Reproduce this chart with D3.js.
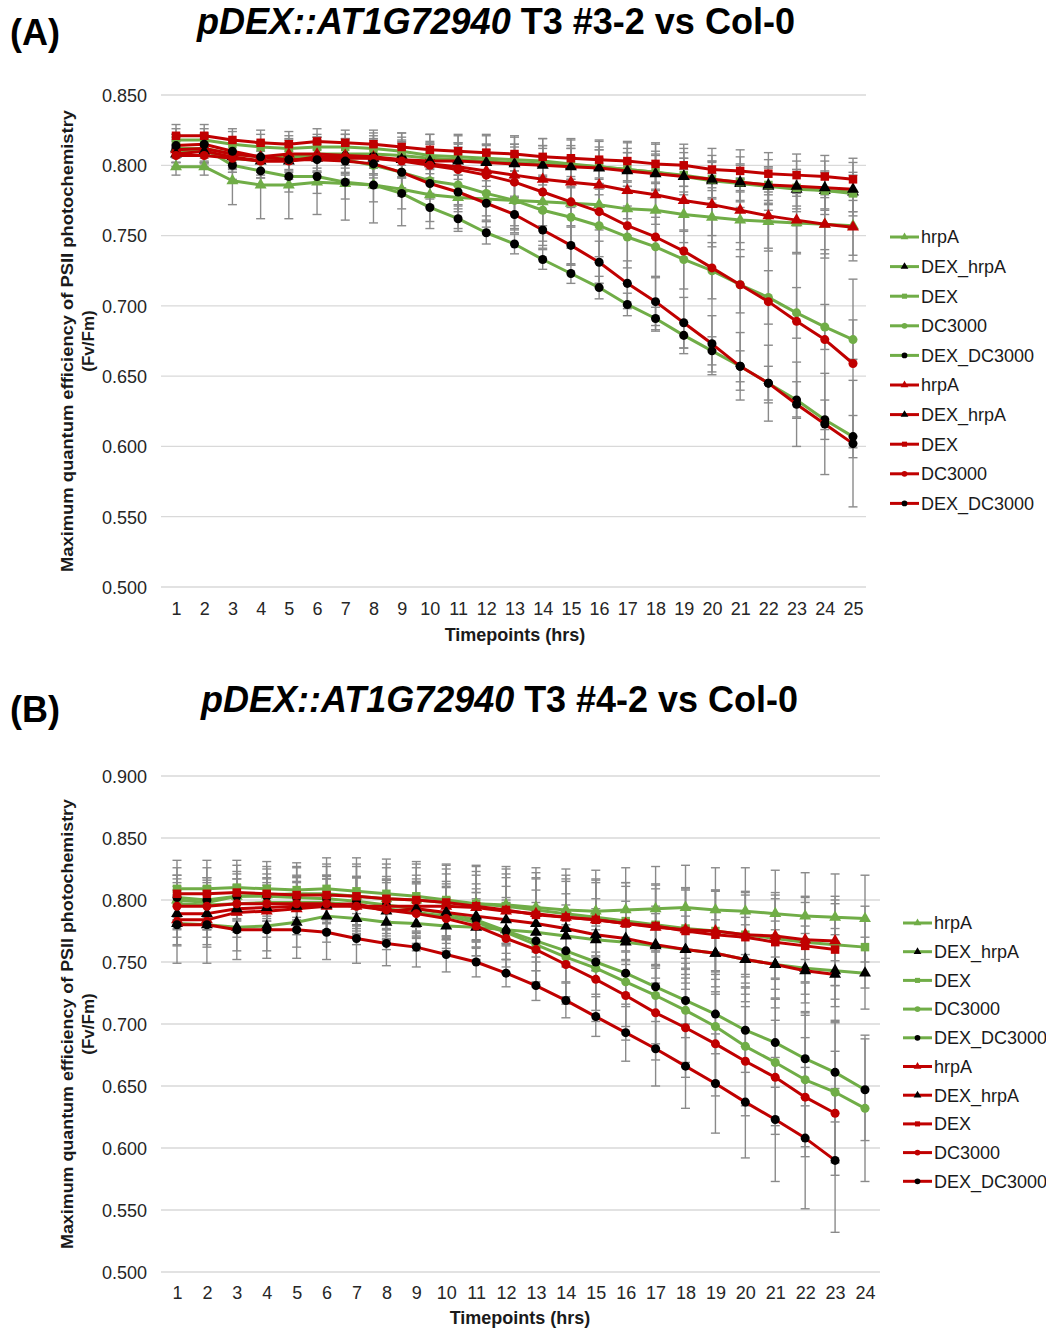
<!DOCTYPE html>
<html>
<head>
<meta charset="utf-8">
<script src="https://cdn.jsdelivr.net/npm/d3@7"></script>
<style>
  body { margin: 0; background: #fff; }
  svg { display: block; font-family: "Liberation Sans", Arial, sans-serif; }
  .grid line { stroke: #d9d9d9; stroke-width: 1.3; }
  .tick text { fill: #262626; font-size: 18px; }
  .legend text { fill: #1a1a1a; font-size: 18px; }
</style>
</head>
<body>
<div id="chart"></div>
<script>
// ---- panel A: T3 #3-2 vs Col-0 ----
const timesA = d3.range(1, 26);
const yTicksA = [0.500, 0.550, 0.600, 0.650, 0.700, 0.750, 0.800, 0.850];

const aGreenHrpA      = [0.799,0.799,0.789,0.786,0.786,0.788,0.787,0.786,0.783,0.779,0.777,0.776,0.775,0.774,0.773,0.772,0.769,0.768,0.765,0.763,0.761,0.760,0.759,0.758,0.757];
const aGreenDexHrpA   = [0.812,0.812,0.808,0.806,0.806,0.808,0.808,0.808,0.807,0.805,0.804,0.803,0.802,0.801,0.800,0.799,0.797,0.795,0.792,0.789,0.787,0.785,0.783,0.782,0.781];
const aGreenDex       = [0.818,0.818,0.815,0.813,0.812,0.813,0.813,0.812,0.810,0.807,0.806,0.805,0.804,0.803,0.801,0.799,0.797,0.795,0.793,0.790,0.788,0.786,0.784,0.782,0.780];
const aGreenDC3000    = [0.810,0.810,0.805,0.803,0.805,0.806,0.804,0.800,0.795,0.789,0.786,0.780,0.775,0.768,0.763,0.757,0.749,0.742,0.733,0.725,0.715,0.706,0.695,0.685,0.676];
const aGreenDexDC3000 = [0.812,0.812,0.800,0.796,0.792,0.792,0.788,0.786,0.780,0.770,0.762,0.752,0.744,0.733,0.723,0.713,0.701,0.691,0.679,0.668,0.657,0.645,0.633,0.619,0.607];
const aRedHrpA        = [0.811,0.812,0.808,0.806,0.808,0.808,0.807,0.806,0.804,0.801,0.799,0.796,0.793,0.790,0.788,0.786,0.782,0.779,0.775,0.772,0.768,0.764,0.761,0.758,0.756];
const aRedDexHrpA     = [0.808,0.810,0.806,0.803,0.803,0.805,0.805,0.805,0.804,0.803,0.803,0.802,0.801,0.800,0.799,0.798,0.796,0.794,0.792,0.790,0.788,0.786,0.785,0.784,0.783];
const aRedDex         = [0.821,0.821,0.818,0.816,0.815,0.817,0.816,0.815,0.813,0.811,0.810,0.809,0.808,0.806,0.805,0.804,0.803,0.801,0.800,0.797,0.796,0.794,0.793,0.792,0.790];
const aRedDC3000      = [0.807,0.807,0.805,0.803,0.803,0.806,0.806,0.805,0.803,0.800,0.797,0.793,0.788,0.781,0.774,0.767,0.757,0.749,0.739,0.727,0.715,0.703,0.689,0.676,0.659];
const aRedDexDC3000   = [0.814,0.815,0.810,0.806,0.804,0.804,0.803,0.801,0.795,0.787,0.781,0.773,0.765,0.754,0.743,0.731,0.716,0.703,0.688,0.673,0.657,0.645,0.630,0.616,0.602];

const aGreenHrpAErr      = [0.006,0.006,0.017,0.024,0.024,0.023,0.026,0.027,0.026,0.024,0.022,0.020,0.018,0.017,0.017,0.018,0.019,0.020,0.020,0.021,0.021,0.021,0.021,0.021,0.021];
const aGreenDexHrpAErr   = [0.010,0.010,0.010,0.011,0.010,0.010,0.010,0.010,0.011,0.011,0.011,0.011,0.011,0.011,0.012,0.012,0.012,0.013,0.013,0.013,0.013,0.013,0.014,0.014,0.014];
const aGreenDexErr       = [0.008,0.008,0.009,0.009,0.009,0.009,0.009,0.009,0.010,0.010,0.010,0.010,0.011,0.011,0.011,0.012,0.012,0.012,0.012,0.013,0.013,0.013,0.013,0.013,0.013];
const aGreenDC3000Err    = [0.008,0.008,0.010,0.012,0.013,0.014,0.015,0.016,0.017,0.018,0.019,0.020,0.021,0.022,0.022,0.022,0.022,0.021,0.021,0.020,0.020,0.019,0.018,0.016,0.014];
const aGreenDexDC3000Err = [0.010,0.010,0.010,0.011,0.011,0.012,0.012,0.012,0.011,0.010,0.009,0.008,0.007,0.007,0.007,0.008,0.008,0.008,0.009,0.010,0.011,0.012,0.013,0.014,0.015];
const aRedHrpAErr        = [0.009,0.009,0.010,0.011,0.011,0.012,0.012,0.013,0.013,0.014,0.014,0.015,0.016,0.017,0.018,0.019,0.020,0.021,0.022,0.022,0.023,0.023,0.024,0.024,0.024];
const aRedDexHrpAErr     = [0.009,0.009,0.009,0.010,0.010,0.010,0.011,0.011,0.012,0.012,0.013,0.013,0.014,0.014,0.015,0.015,0.016,0.016,0.017,0.017,0.018,0.018,0.018,0.019,0.019];
const aRedDexErr         = [0.008,0.008,0.008,0.009,0.009,0.009,0.009,0.010,0.010,0.011,0.011,0.012,0.012,0.013,0.013,0.013,0.014,0.014,0.015,0.015,0.015,0.015,0.015,0.015,0.015];
const aRedDC3000Err      = [0.008,0.008,0.010,0.012,0.013,0.014,0.016,0.018,0.020,0.022,0.025,0.029,0.033,0.038,0.045,0.051,0.059,0.067,0.073,0.076,0.075,0.072,0.068,0.064,0.060];
const aRedDexDC3000Err   = [0.008,0.008,0.008,0.009,0.009,0.009,0.010,0.010,0.011,0.011,0.012,0.012,0.013,0.013,0.014,0.015,0.016,0.017,0.018,0.020,0.024,0.027,0.030,0.036,0.045];

// ---- panel B: T3 #4-2 vs Col-0 ----
const timesB = d3.range(1, 25);
const yTicksB = [0.500, 0.550, 0.600, 0.650, 0.700, 0.750, 0.800, 0.850, 0.900];

const bGreenHrpA      = [0.800,0.798,0.803,0.804,0.805,0.805,0.803,0.801,0.800,0.798,0.797,0.796,0.794,0.792,0.791,0.792,0.793,0.794,0.792,0.791,0.789,0.787,0.786,0.785];
const bGreenDexHrpA   = [0.781,0.780,0.778,0.779,0.782,0.787,0.785,0.782,0.781,0.779,0.778,0.776,0.774,0.771,0.768,0.766,0.763,0.760,0.757,0.752,0.748,0.745,0.743,0.741];
const bGreenDex       = [0.809,0.809,0.810,0.809,0.808,0.809,0.807,0.805,0.803,0.800,0.797,0.795,0.792,0.789,0.786,0.783,0.780,0.777,0.775,0.772,0.769,0.766,0.764,0.762];
const bGreenDC3000    = [0.797,0.796,0.797,0.798,0.798,0.798,0.796,0.793,0.790,0.787,0.782,0.774,0.764,0.754,0.745,0.734,0.723,0.711,0.698,0.682,0.669,0.655,0.645,0.632];
const bGreenDexDC3000 = [0.802,0.800,0.803,0.803,0.802,0.801,0.799,0.796,0.793,0.789,0.784,0.775,0.767,0.759,0.750,0.741,0.730,0.719,0.708,0.695,0.685,0.672,0.661,0.647];
const bRedHrpA        = [0.784,0.784,0.790,0.791,0.793,0.795,0.795,0.795,0.795,0.795,0.794,0.791,0.789,0.786,0.784,0.781,0.778,0.776,0.775,0.772,0.771,0.768,0.767];
const bRedDexHrpA     = [0.789,0.789,0.793,0.794,0.795,0.796,0.797,0.791,0.793,0.790,0.787,0.784,0.781,0.777,0.772,0.769,0.764,0.760,0.757,0.752,0.748,0.743,0.740];
const bRedDex         = [0.805,0.805,0.806,0.805,0.804,0.804,0.803,0.801,0.800,0.798,0.795,0.792,0.788,0.786,0.784,0.781,0.779,0.775,0.772,0.770,0.766,0.763,0.760];
const bRedDC3000      = [0.795,0.795,0.797,0.797,0.797,0.797,0.795,0.792,0.789,0.785,0.779,0.769,0.760,0.748,0.736,0.723,0.709,0.697,0.684,0.670,0.657,0.641,0.628];
const bRedDexDC3000   = [0.780,0.780,0.776,0.776,0.776,0.774,0.769,0.765,0.762,0.756,0.750,0.741,0.731,0.719,0.706,0.693,0.680,0.666,0.652,0.637,0.623,0.608,0.590];

const bGreenHrpAErr      = [0.020,0.020,0.020,0.021,0.022,0.024,0.026,0.028,0.029,0.030,0.031,0.031,0.032,0.033,0.033,0.034,0.034,0.034,0.034,0.035,0.035,0.035,0.035,0.035];
const bGreenDexHrpAErr   = [0.018,0.018,0.019,0.020,0.020,0.021,0.021,0.022,0.022,0.023,0.023,0.024,0.024,0.025,0.025,0.026,0.026,0.027,0.027,0.028,0.028,0.028,0.029,0.029];
const bGreenDexErr       = [0.023,0.023,0.022,0.022,0.022,0.025,0.027,0.028,0.028,0.029,0.030,0.030,0.030,0.031,0.031,0.031,0.032,0.032,0.032,0.032,0.032,0.032,0.033,0.033];
const bGreenDC3000Err    = [0.020,0.020,0.020,0.020,0.021,0.022,0.023,0.024,0.025,0.026,0.027,0.028,0.030,0.032,0.034,0.036,0.039,0.042,0.045,0.048,0.051,0.054,0.057,0.059];
const bGreenDexDC3000Err = [0.018,0.018,0.018,0.018,0.018,0.019,0.019,0.020,0.020,0.021,0.022,0.023,0.024,0.025,0.026,0.027,0.028,0.030,0.032,0.034,0.036,0.038,0.040,0.041];
const bRedHrpAErr        = [0.020,0.020,0.020,0.021,0.021,0.022,0.023,0.024,0.025,0.026,0.026,0.027,0.028,0.029,0.030,0.030,0.031,0.032,0.033,0.034,0.035,0.035,0.036];
const bRedDexHrpAErr     = [0.019,0.019,0.019,0.020,0.020,0.021,0.022,0.023,0.024,0.025,0.026,0.027,0.027,0.028,0.029,0.030,0.031,0.032,0.033,0.034,0.035,0.036,0.037];
const bRedDexErr         = [0.021,0.021,0.022,0.022,0.022,0.023,0.024,0.025,0.026,0.027,0.028,0.029,0.030,0.031,0.032,0.033,0.034,0.035,0.036,0.037,0.038,0.039,0.040];
const bRedDC3000Err      = [0.019,0.019,0.020,0.020,0.021,0.022,0.023,0.024,0.025,0.026,0.027,0.028,0.030,0.032,0.034,0.036,0.038,0.040,0.042,0.044,0.046,0.048,0.050];
const bRedDexDC3000Err   = [0.031,0.031,0.024,0.023,0.023,0.022,0.020,0.018,0.016,0.014,0.012,0.011,0.012,0.014,0.016,0.023,0.030,0.034,0.040,0.045,0.050,0.057,0.058];

const seriesNames = ["hrpA", "DEX_hrpA", "DEX", "DC3000", "DEX_DC3000"];
const GREEN = "#70ad47", RED = "#c00000", BLACK = "#000000";

document.addEventListener("DOMContentLoaded", function() {
    const svg = d3.select("#chart").append("svg")
        .attr("width", 1046)
        .attr("height", 1328);

    drawPanel(svg, {
        tag: "(A)", tagY: 45,
        titleSuffix: " T3 #3-2 vs Col-0", titleX: 197, titleY: 34, titleLen: 598,
        times: timesA, yTicks: yTicksA,
        xRange: [176, 853], yRange: [587, 95], gridX: [161, 866],
        xLabelY: 616, xTitleY: 641, xTitleX: 515,
        yTitleCenter: 341, yTitleLen: 462,
        legendX: 890, legendY: 237, legendStep: 29.6,
        green: [[aGreenHrpA, aGreenHrpAErr], [aGreenDexHrpA, aGreenDexHrpAErr], [aGreenDex, aGreenDexErr], [aGreenDC3000, aGreenDC3000Err], [aGreenDexDC3000, aGreenDexDC3000Err]],
        red: [[aRedHrpA, aRedHrpAErr], [aRedDexHrpA, aRedDexHrpAErr], [aRedDex, aRedDexErr], [aRedDC3000, aRedDC3000Err], [aRedDexDC3000, aRedDexDC3000Err]]
    });

    drawPanel(svg, {
        tag: "(B)", tagY: 722,
        titleSuffix: " T3 #4-2 vs Col-0", titleX: 201, titleY: 712, titleLen: 597,
        times: timesB, yTicks: yTicksB,
        xRange: [177, 865], yRange: [1272, 776], gridX: [161, 880],
        xLabelY: 1300, xTitleY: 1324, xTitleX: 520,
        yTitleCenter: 1024, yTitleLen: 450,
        legendX: 903, legendY: 923, legendStep: 28.7,
        green: [[bGreenHrpA, bGreenHrpAErr], [bGreenDexHrpA, bGreenDexHrpAErr], [bGreenDex, bGreenDexErr], [bGreenDC3000, bGreenDC3000Err], [bGreenDexDC3000, bGreenDexDC3000Err]],
        red: [[bRedHrpA, bRedHrpAErr], [bRedDexHrpA, bRedDexHrpAErr], [bRedDex, bRedDexErr], [bRedDC3000, bRedDC3000Err], [bRedDexDC3000, bRedDexDC3000Err]]
    });
});

// marker shape + fill for each of the five treatments
function markerFor(i, lineColor) {
    const shapes = [d3.symbolTriangle, d3.symbolTriangle, d3.symbolSquare, d3.symbolCircle, d3.symbolCircle];
    const fills = [lineColor, BLACK, lineColor, lineColor, BLACK];
    return { shape: shapes[i], fill: fills[i] };
}

function drawPanel(svg, cfg) {
    const x = d3.scaleLinear().domain([1, cfg.times.length]).range(cfg.xRange);
    const y = d3.scaleLinear().domain([0.5, cfg.yTicks[cfg.yTicks.length - 1]]).range(cfg.yRange);

    // panel tag + title
    svg.append("text")
        .attr("x", 10).attr("y", cfg.tagY)
        .style("font-size", "36px").style("font-weight", "bold")
        .text(cfg.tag);

    const title = svg.append("text")
        .attr("x", cfg.titleX).attr("y", cfg.titleY)
        .attr("textLength", cfg.titleLen).attr("lengthAdjust", "spacingAndGlyphs")
        .style("font-size", "36px").style("font-weight", "bold");
    title.append("tspan").style("font-style", "italic").text("pDEX::AT1G72940");
    title.append("tspan").text(cfg.titleSuffix);

    // gridlines
    svg.append("g")
        .attr("class", "grid")
        .selectAll("line")
        .data(cfg.yTicks)
        .enter().append("line")
        .attr("x1", cfg.gridX[0]).attr("x2", cfg.gridX[1])
        .attr("y1", d => y(d)).attr("y2", d => y(d));

    // y axis labels
    const yAxis = d3.axisLeft(y).tickValues(cfg.yTicks).tickFormat(d3.format(".3f")).tickSize(0).tickPadding(0);
    const ya = svg.append("g").attr("transform", `translate(147,0)`).call(yAxis);
    ya.select(".domain").remove();
    ya.selectAll(".tick text").attr("dy", "0.35em").style("font-family", "inherit");

    // x axis labels
    const xAxis = d3.axisBottom(x).tickValues(cfg.times).tickFormat(d3.format("d")).tickSize(0).tickPadding(0);
    const xa = svg.append("g").attr("transform", `translate(0,${cfg.xLabelY - 14})`).call(xAxis);
    xa.select(".domain").remove();
    xa.selectAll(".tick text").attr("dy", "0.71em").style("font-family", "inherit");

    svg.append("text")
        .attr("x", cfg.xTitleX).attr("y", cfg.xTitleY)
        .attr("text-anchor", "middle")
        .style("font-size", "18px").style("font-weight", "bold").style("fill", "#1a1a1a")
        .text("Timepoints (hrs)");

    svg.append("text")
        .attr("transform", `translate(73,${cfg.yTitleCenter}) rotate(-90)`)
        .attr("text-anchor", "middle")
        .attr("textLength", cfg.yTitleLen).attr("lengthAdjust", "spacingAndGlyphs")
        .style("font-size", "17px").style("font-weight", "bold").style("fill", "#1a1a1a")
        .text("Maximum quantum efficiency of PSII photochemistry");
    svg.append("text")
        .attr("transform", `translate(94,${cfg.yTitleCenter}) rotate(-90)`)
        .attr("text-anchor", "middle")
        .style("font-size", "17px").style("font-weight", "bold").style("fill", "#1a1a1a")
        .text("(Fv/Fm)");

    const all = [];
    cfg.green.forEach((s, i) => all.push({ color: GREEN, idx: i, values: s[0], errs: s[1] }));
    cfg.red.forEach((s, i) => all.push({ color: RED, idx: i, values: s[0], errs: s[1] }));

    // error bars
    const eb = svg.append("g").attr("stroke", "#8a8a8a").attr("stroke-width", 1.4);
    all.forEach(s => {
        const pts = s.values.map((v, i) => ({ t: i + 1, v: v, e: s.errs[i] }));
        const g = eb.append("g");
        g.selectAll(".bar").data(pts).enter().append("line")
            .attr("x1", d => x(d.t)).attr("x2", d => x(d.t))
            .attr("y1", d => y(d.v - d.e)).attr("y2", d => y(d.v + d.e));
        g.selectAll(".capTop").data(pts).enter().append("line")
            .attr("x1", d => x(d.t) - 4.5).attr("x2", d => x(d.t) + 4.5)
            .attr("y1", d => y(d.v + d.e)).attr("y2", d => y(d.v + d.e));
        g.selectAll(".capBot").data(pts).enter().append("line")
            .attr("x1", d => x(d.t) - 4.5).attr("x2", d => x(d.t) + 4.5)
            .attr("y1", d => y(d.v - d.e)).attr("y2", d => y(d.v - d.e));
    });

    // lines + markers
    const line = d3.line().x((d, i) => x(i + 1)).y(d => y(d));
    const sizes = [62, 62, 72, 64, 64];
    all.forEach(s => {
        const m = markerFor(s.idx, s.color);
        svg.append("path")
            .datum(s.values)
            .attr("fill", "none")
            .attr("stroke", s.color)
            .attr("stroke-width", 3)
            .attr("stroke-linejoin", "round")
            .attr("d", line);
        svg.append("g").selectAll("path")
            .data(s.values)
            .enter().append("path")
            .attr("transform", (d, i) => `translate(${x(i + 1)},${y(d)})`)
            .attr("d", d3.symbol().type(m.shape).size(sizes[s.idx]))
            .attr("fill", m.fill);
    });

    // legend
    const legend = svg.append("g").attr("class", "legend");
    all.forEach((s, k) => {
        const m = markerFor(s.idx, s.color);
        const ly = cfg.legendY + k * cfg.legendStep;
        legend.append("line")
            .attr("x1", cfg.legendX).attr("x2", cfg.legendX + 29)
            .attr("y1", ly).attr("y2", ly)
            .attr("stroke", s.color).attr("stroke-width", 3);
        legend.append("path")
            .attr("transform", `translate(${cfg.legendX + 14.5},${ly})`)
            .attr("d", d3.symbol().type(m.shape).size(26))
            .attr("fill", m.fill);
        legend.append("text")
            .attr("x", cfg.legendX + 31).attr("y", ly)
            .attr("dy", "0.35em")
            .text(seriesNames[s.idx]);
    });
}
</script>
</body>
</html>
